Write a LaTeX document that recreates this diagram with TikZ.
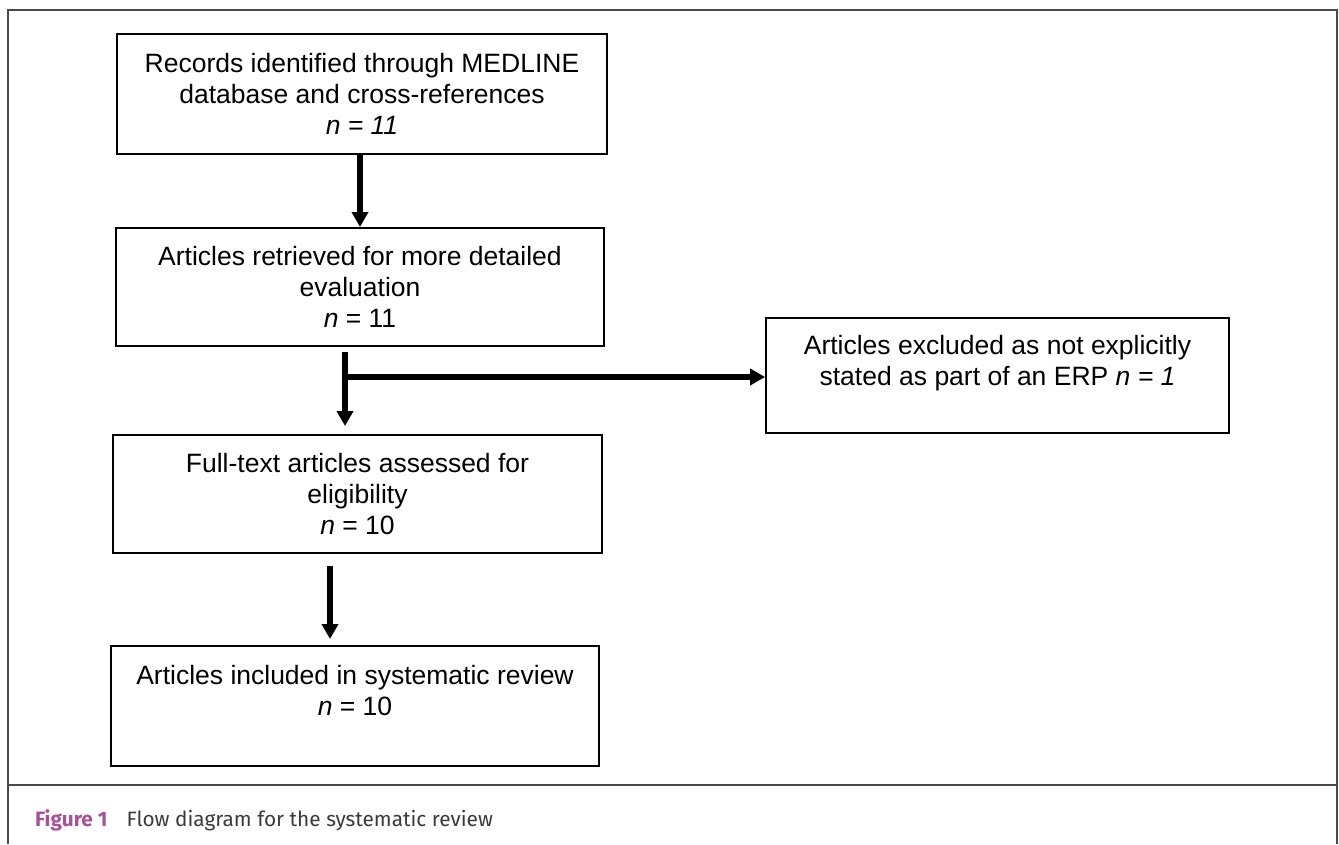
\documentclass[tikz,border=0pt]{standalone}
\usepackage{fontspec}
\setmainfont{Liberation Sans}
\newfontfamily\capfont{Fira Sans}
\usetikzlibrary{arrows.meta}
\definecolor{figpink}{HTML}{A9509A}
\definecolor{capgray}{HTML}{3A3A3A}
\definecolor{framegray}{HTML}{4A4A4A}
\begin{document}
\begin{tikzpicture}[x=1pt,y=-1pt,
  flowbox/.style={draw=black, line width=1.8pt, rectangle, align=center,
    font=\fontsize{26.5}{31}\selectfont, inner sep=0pt},
  flowarrow/.style={line width=5.5pt, -{Triangle[length=15pt,width=16pt]}},
  framestyle/.style={draw=framegray, line width=1.4pt}]
\useasboundingbox (0,0) rectangle (1339,844);
% outer frame
\draw[framestyle] (8,844) -- (8,10) -- (1337,10) -- (1337,844);
\draw[framestyle] (8,785) -- (1337,785);
% boxes
\node[flowbox, minimum width=490pt, minimum height=120pt] (b1) at (362,94)
  {Records identified through MEDLINE\\ database and cross-references\\ \textit{n = 11}};
\node[flowbox, minimum width=488pt, minimum height=118pt] (b2) at (360,287)
  {Articles retrieved for more detailed\\ evaluation\\ \textit{n} = 11};
\node[flowbox, minimum width=463pt, minimum height=115pt] (b3) at (997.5,375.5)
  {Articles excluded as not explicitly\\ stated as part of an ERP \textit{n = 1}\\ \mbox{}};
\node[flowbox, minimum width=489pt, minimum height=118pt] (b4) at (357.5,494)
  {Full-text articles assessed for\\ eligibility\\ \textit{n} = 10};
\node[flowbox, minimum width=488pt, minimum height=120pt] (b5) at (355,706)
  {Articles included in systematic review\\ \textit{n} = 10\\ \mbox{}};
% connectors
\coordinate (a1s) at (360,154);
\coordinate (a1e) at (360,227);
\draw[flowarrow] (a1s) -- (a1e);
\coordinate (a2s) at (345,352);
\coordinate (a2e) at (345,426);
\coordinate (a2j) at (345,377);
\draw[flowarrow] (a2s) -- (a2e);
\draw[flowarrow] (a2j) -- (b3.west |- a2j);
\coordinate (a3s) at (330,566);
\coordinate (a3e) at (330,639);
\draw[flowarrow] (a3s) -- (a3e);
% caption
\node[anchor=base west, inner sep=0pt, font=\capfont\fontsize{20.8}{24}\selectfont] (cap) at (35,826)
  {\textcolor{figpink}{\textbf{Figure 1}}\hspace{19pt}\textcolor{capgray}{Flow diagram for the systematic review}};
\end{tikzpicture}
\end{document}
